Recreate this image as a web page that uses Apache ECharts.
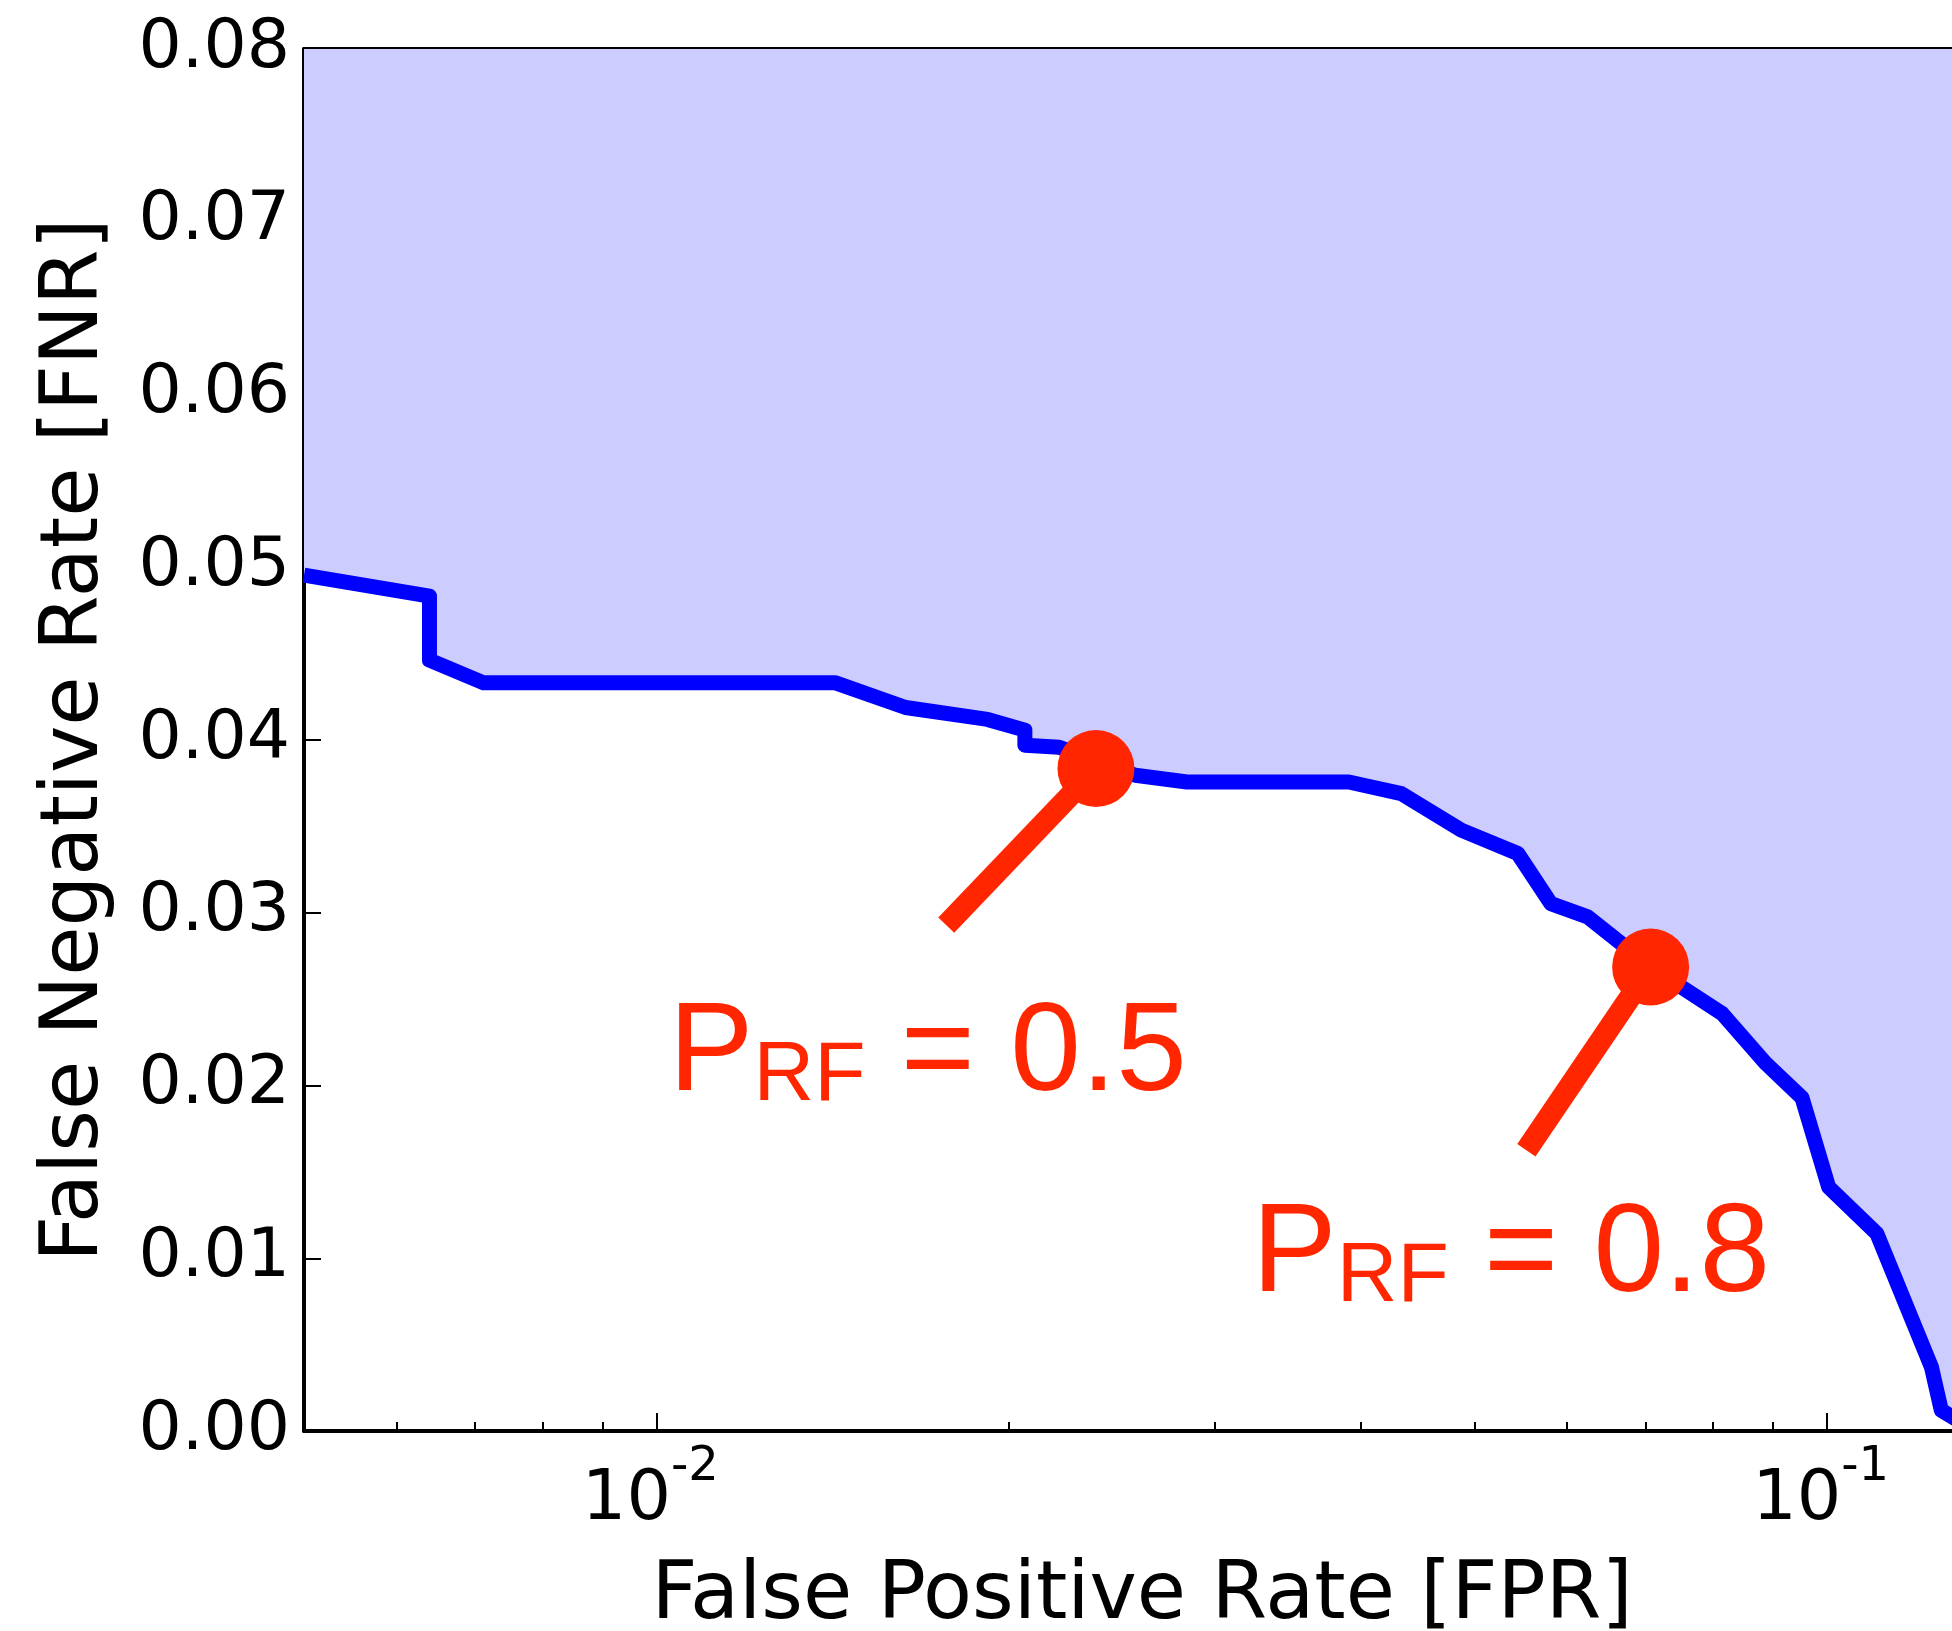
<!DOCTYPE html>
<html>
<head>
<meta charset="utf-8">
<title>FNR vs FPR</title>
<script src="https://cdn.jsdelivr.net/npm/echarts@6/dist/echarts.min.js"></script>
<style>
  html, body { margin: 0; padding: 0; background: #fff; }
  #chart { width: 1952px; height: 1631px; }
</style>
</head>
<body>
<div id="chart"></div>
<script>
// operating curve
const fpr = [0.005, 0.0064, 0.0064, 0.00712, 0.01423, 0.01633, 0.01919, 0.02065, 0.02065, 0.02209,
  0.02566, 0.02841, 0.03906, 0.04331, 0.04873, 0.05446, 0.05813, 0.06249, 0.07073, 0.08143,
  0.08863, 0.09526, 0.1004, 0.1104, 0.1229, 0.1253, 0.1296]
const fnr = [0.04955, 0.04833, 0.04462, 0.04331, 0.04331, 0.04188, 0.04119, 0.04057, 0.0397, 0.03958,
  0.03796, 0.03757, 0.03757, 0.0369, 0.03478, 0.03343, 0.03053, 0.02976, 0.02686, 0.02416,
  0.02131, 0.01929, 0.01412, 0.01142, 0.0037, 0.0012, 0.0006]

// random forest thresholds marked on the curve
const thresholds = ['0.5', '0.8']
const thresholdFpr = [0.02375, 0.07073]
const thresholdFnr = [0.03835, 0.02686]
// free end of each callout stick
const calloutFpr = [0.01769, 0.05539]
const calloutFnr = [0.02928, 0.01625]
// baseline start of each callout label
const labelFpr = [0.01026, 0.03232]
const labelFnr = [0.01947, 0.00783]

const xMajorTicks = [0.01, 0.1]
const xMinorTicks = [0.006, 0.007, 0.008, 0.009, 0.02, 0.03, 0.04, 0.05, 0.06, 0.07, 0.08, 0.09]

const RED = '#ff2600'
const AXIS_FONT = 'DejaVu Sans'

// one log x axis; major/minor ticks need separate axes
function xAxis(position, ticks, major) {
  return {
    type: 'log',
    position: position,
    min: 0.005,
    max: 0.13,
    axisLine: { show: major, lineStyle: { color: '#000', width: 4 } },
    axisTick: { show: true, inside: true, length: major ? 18 : 9, customValues: ticks, lineStyle: { color: '#000', width: 2 } },
    axisLabel: {
      show: major && position === 'bottom',
      customValues: ticks,
      margin: 13,
      formatter: function (v) {
        return '{b|10}{s|' + Math.round(Math.log10(v)) + '}'
      },
      rich: {
        b: { fontFamily: AXIS_FONT, fontSize: 70, lineHeight: 92, verticalAlign: 'bottom', color: '#000' },
        s: { fontFamily: AXIS_FONT, fontSize: 48, lineHeight: 1, verticalAlign: 'top', padding: [0, 12, 0, 0], color: '#000' }
      }
    },
    splitLine: { show: false },
    name: major && position === 'bottom' ? 'False Positive Rate [FPR]' : '',
    nameLocation: 'middle',
    nameGap: 126,
    nameTextStyle: { fontFamily: AXIS_FONT, fontSize: 80, color: '#000', padding: [0, 0, 0, 20] }
  }
}

function yAxis(position) {
  const left = position === 'left'
  return {
    type: 'value',
    position: position,
    min: 0,
    max: 0.08,
    interval: 0.01,
    axisLine: { show: true, lineStyle: { color: '#000', width: 4 } },
    axisTick: { show: true, inside: true, length: 17, lineStyle: { color: '#000', width: 2 } },
    axisLabel: {
      show: left,
      margin: 14,
      fontFamily: AXIS_FONT,
      fontSize: 68,
      color: '#000',
      formatter: function (v) { return v.toFixed(2) }
    },
    splitLine: { show: false },
    name: left ? 'False Negative Rate [FNR]' : '',
    nameLocation: 'middle',
    nameGap: 188,
    nameTextStyle: { fontFamily: AXIS_FONT, fontSize: 80, color: '#000' }
  }
}

const series = [{
  type: 'line',
  data: fpr.map(function (x, i) { return [x, fnr[i]] }),
  showSymbol: false,
  lineStyle: { color: '#0000ff', width: 15, join: 'round' },
  areaStyle: { origin: 'end', color: '#ccccff', opacity: 1 },
  z: 2
}]

thresholds.forEach(function (t, i) {
  series.push({
    type: 'line',
    data: [[calloutFpr[i], calloutFnr[i]], [thresholdFpr[i], thresholdFnr[i]]],
    showSymbol: false,
    lineStyle: { color: RED, width: 22, cap: 'butt' },
    z: 3
  })
})

series.push({
  type: 'scatter',
  data: thresholds.map(function (t, i) { return [thresholdFpr[i], thresholdFnr[i]] }),
  symbolSize: 77,
  itemStyle: { color: RED, opacity: 1 },
  z: 4
})

// callout labels, anchored at the baseline start
const labelText = { fontFamily: 'Liberation Sans', color: RED, opacity: 1, textBorderWidth: 0, textShadowBlur: 0 }
series.push({
  type: 'scatter',
  data: thresholds.map(function (t, i) { return { value: [labelFpr[i], labelFnr[i]], name: t } }),
  symbolSize: 1,
  itemStyle: { color: RED, opacity: 0 },
  label: {
    show: true,
    position: [0, 0],
    align: 'left',
    verticalAlign: 'middle',
    offset: [0, -39],
    color: RED,
    opacity: 1,
    textBorderWidth: 0,
    formatter: function (p) { return '{p|P}{s|RF}{p| = ' + p.name + '}' },
    rich: {
      p: Object.assign({ fontSize: 127, lineHeight: 127, verticalAlign: 'middle' }, labelText),
      s: Object.assign({ fontSize: 84, lineHeight: 71, verticalAlign: 'bottom' }, labelText)
    }
  },
  z: 5
})

const chart = echarts.init(document.getElementById('chart'))
chart.setOption({
  animation: false,
  backgroundColor: '#fff',
  grid: { left: 304, top: 49, right: -8, bottom: 200, outerBoundsMode: 'none' },
  xAxis: [
    xAxis('bottom', xMajorTicks, true),
    xAxis('bottom', xMinorTicks, false),
    xAxis('top', xMajorTicks, true),
    xAxis('top', xMinorTicks, false)
  ],
  yAxis: [yAxis('left'), yAxis('right')],
  series: series
})
</script>
</body>
</html>
